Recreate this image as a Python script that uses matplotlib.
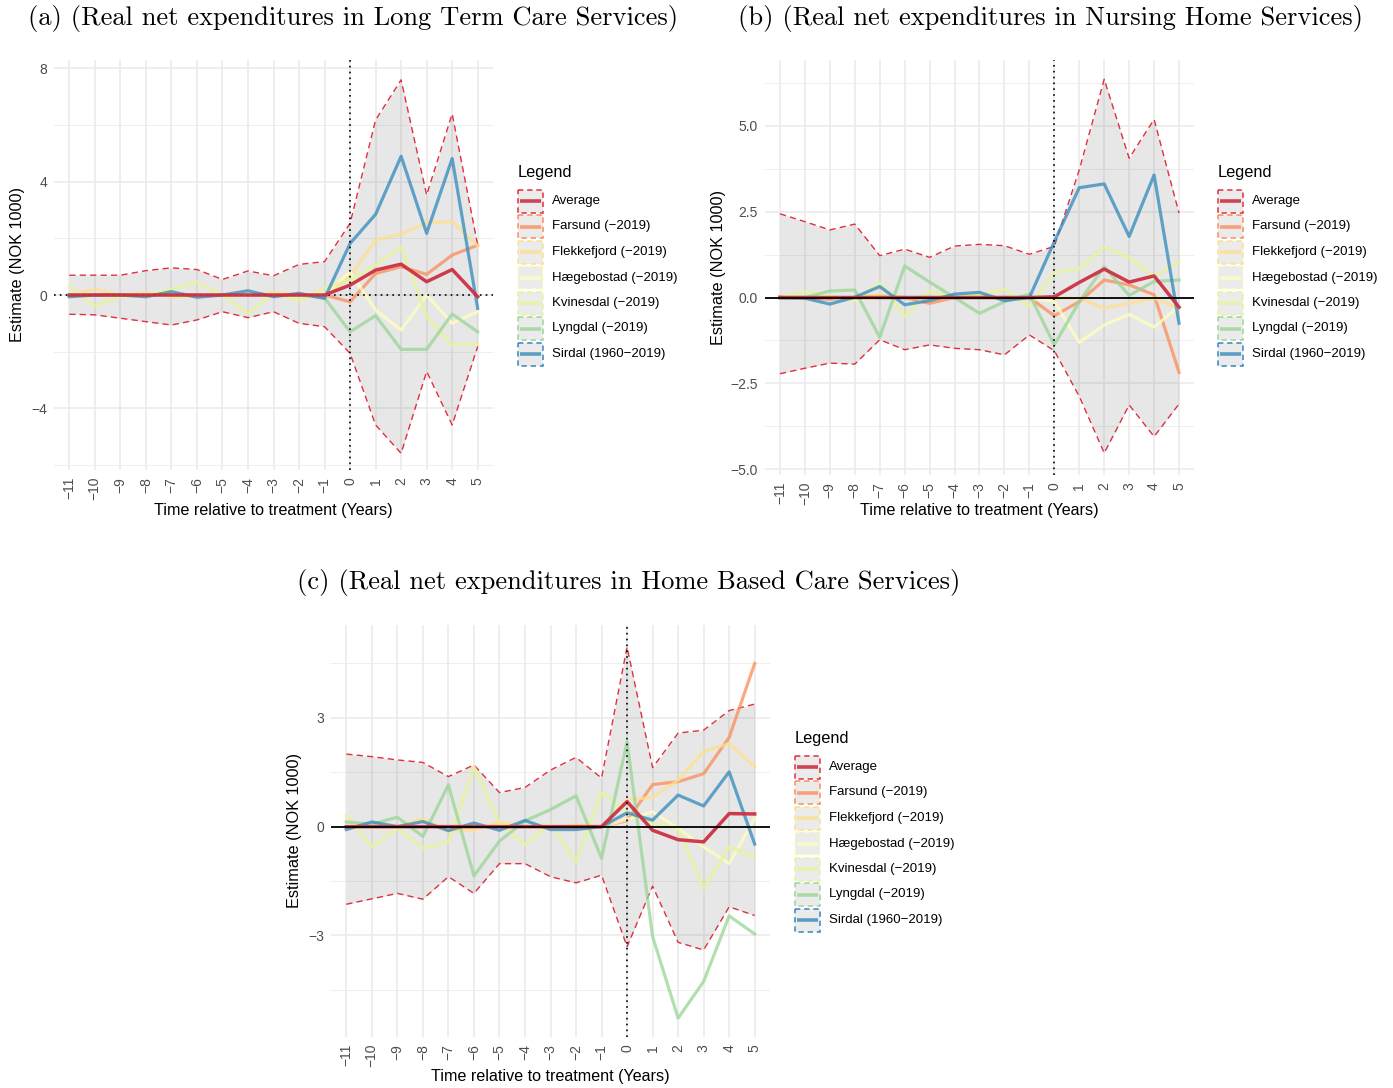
import matplotlib
matplotlib.use("Agg")
import matplotlib.pyplot as plt
from matplotlib.patches import Rectangle

# ---------------- data ----------------
years = list(range(-11, 6))
series_names = ["Average", "Farsund (\u22122019)", "Flekkefjord (\u22122019)",
                "H\u00e6gebostad (\u22122019)", "Kvinesdal (\u22122019)",
                "Lyngdal (\u22122019)", "Sirdal (1960\u22122019)"]
series_colors = ["#CC3243", "#FC8D59", "#FEE08B", "#FFFFBF", "#E6F598", "#99D594", "#3288BD"]

titles = ["(a) (Real net expenditures in Long Term Care Services)",
          "(b) (Real net expenditures in Nursing Home Services)",
          "(c) (Real net expenditures in Home Based Care Services)"]

# Panel (a)
a_avg = [0, 0, 0, 0, 0, 0, 0, 0, 0, 0, 0, 0.35, 0.88, 1.09, 0.47, 0.90, -0.06]
a_upper = [0.70, 0.70, 0.70, 0.86, 0.96, 0.90, 0.55, 0.85, 0.68, 1.08, 1.18, 2.53, 6.18, 7.60, 3.53, 6.40, 1.76]
a_lower = [-0.68, -0.70, -0.82, -0.94, -1.06, -0.88, -0.59, -0.80, -0.59, -1.00, -1.12, -2.06, -4.59, -5.59, -2.70, -4.59, -1.82]
a_farsund = [0, 0, 0, 0, 0, 0, 0, 0, 0, 0, 0, -0.24, 0.76, 1.00, 0.73, 1.41, 1.76]
a_flekkefjord = [0, 0.20, 0, 0.08, -0.06, -0.04, 0, 0, 0.08, 0, -0.03, 0.65, 1.94, 2.15, 2.55, 2.59, 1.74]
a_haegebostad = [0, 0, 0, 0, 0, 0, 0, 0, 0, 0, 0, 0.82, -0.53, -1.24, 0.0, -1.00, -0.59]
a_kvinesdal = [0.32, -0.39, -0.06, 0, 0.20, 0.45, 0, -0.65, 0.06, -0.20, 0.24, 0.53, 1.06, 1.70, -0.76, -1.76, -1.74]
a_lyngdal = [0, 0, 0, 0, 0, 0, 0, 0, 0, 0, -0.10, -1.30, -0.73, -1.92, -1.92, -0.67, -1.30]
a_sirdal = [-0.06, 0, 0, -0.06, 0.12, -0.08, 0, 0.15, -0.06, 0.06, -0.12, 1.82, 2.85, 4.90, 2.18, 4.82, -0.47]

# Panel (b)
b_avg = [0, 0, 0, 0, 0, 0, 0, 0, 0, 0, 0, 0.02, 0.44, 0.83, 0.45, 0.63, -0.28]
b_upper = [2.44, 2.21, 1.97, 2.14, 1.22, 1.41, 1.17, 1.50, 1.55, 1.51, 1.26, 1.49, 3.72, 6.36, 4.06, 5.19, 2.46]
b_lower = [-2.22, -2.06, -1.91, -1.94, -1.23, -1.52, -1.38, -1.48, -1.52, -1.67, -1.09, -1.55, -2.88, -4.53, -3.13, -4.05, -3.10]
b_farsund = [0.03, 0, -0.05, 0, 0.05, 0, -0.17, 0, 0, 0, 0, -0.53, -0.12, 0.51, 0.37, 0.08, -2.18]
b_flekkefjord = [0, 0, 0, 0, 0.08, 0, -0.05, 0, 0.05, 0, 0, -0.02, -0.02, -0.31, -0.17, -0.02, -0.31]
b_haegebostad = [0, 0, 0, -0.08, 0, 0, 0, 0, 0, 0, 0, -0.12, -1.31, -0.80, -0.49, -0.86, -0.26]
b_kvinesdal = [0, 0.17, 0.05, -0.09, 0.42, -0.55, 0.19, 0, 0.08, 0.24, -0.26, 0.73, 0.83, 1.47, 1.17, 0.61, 1.05]
b_lyngdal = [-0.02, 0, 0.19, 0.22, -1.16, 0.92, 0.45, 0, -0.46, -0.12, 0.10, -1.38, -0.12, 0.90, 0.06, 0.47, 0.51]
b_sirdal = [0, -0.02, -0.19, 0.01, 0.32, -0.21, -0.09, 0.10, 0.15, -0.09, 0, 1.63, 3.20, 3.31, 1.78, 3.57, -0.75]

# Panel (c)
c_avg = [0, 0, 0, 0, 0, 0, 0, 0, 0, 0, 0, 0.69, -0.10, -0.36, -0.42, 0.36, 0.35]
c_upper = [2.00, 1.93, 1.84, 1.77, 1.38, 1.70, 0.94, 1.08, 1.56, 1.91, 1.34, 4.95, 1.63, 2.58, 2.66, 3.20, 3.38]
c_lower = [-2.14, -1.99, -1.84, -2.00, -1.38, -1.84, -1.02, -1.02, -1.38, -1.55, -1.34, -3.31, -1.64, -3.19, -3.40, -2.21, -2.45]
c_farsund = [0, 0, 0, 0, 0, 0, 0, 0, 0, 0, 0, 0.17, 1.16, 1.24, 1.46, 2.46, 4.50]
c_flekkefjord = [0, 0, 0, 0.22, -0.12, -0.09, 0.13, 0, -0.05, 0.05, 0, 0.74, 0.81, 1.28, 2.07, 2.29, 1.65]
c_haegebostad = [0, 0, 0, 0, 0, 0, 0, 0, 0, 0, 0, 0.20, 0.41, -0.05, -0.56, -1.02, 0.23]
c_kvinesdal = [0.30, -0.56, -0.04, -0.59, -0.42, 1.66, 0.10, -0.51, 0.07, -0.97, 0.95, 0.38, 0.09, -0.05, -1.71, -0.56, -0.83]
c_lyngdal = [0.13, 0.07, 0.26, -0.27, 1.15, -1.36, -0.40, 0.16, 0.47, 0.85, -0.87, 2.34, -3.03, -5.28, -4.27, -2.46, -2.96]
c_sirdal = [-0.08, 0.13, 0, 0.14, -0.11, 0.10, -0.10, 0.17, -0.08, -0.08, 0, 0.38, 0.18, 0.87, 0.57, 1.51, -0.48]

a_yticks = [-4, 0, 4, 8]
a_yticklabels = ["\u22124", "0", "4", "8"]
b_yticks = [-5.0, -2.5, 0.0, 2.5, 5.0]
b_yticklabels = ["\u22125.0", "\u22122.5", "0.0", "2.5", "5.0"]
c_yticks = [-3, 0, 3]
c_yticklabels = ["\u22123", "0", "3"]
xticklabels = [str(y).replace("-", "\u2212") for y in years]

# ---------------- style ----------------
W, H = 1393, 1088
fig = plt.figure(figsize=(W / 100, H / 100), dpi=100)
SANS = ["Liberation Sans", "DejaVu Sans"]
TICK_COLOR = "#4D4D4D"
CI_COLOR = "#E0303F"

# overlay in pixel coordinates for the legends
over = fig.add_axes([0, 0, 1, 1], zorder=10)
over.set_xlim(0, W)
over.set_ylim(H, 0)
over.axis("off")
over.patch.set_alpha(0)


def fx(px):
    return px / W


def fy(py):
    return 1 - py / H


def draw_legend(x0, ytitle):
    over.text(x0, ytitle, "Legend", family=SANS, fontsize=11.8, ha="left", va="center")
    for i, (name, col) in enumerate(zip(series_names, series_colors)):
        yc = ytitle + 29 + 25.5 * i
        over.add_patch(Rectangle((x0, yc - 11.5), 25, 23, facecolor="#EBEBEB",
                                 edgecolor=col if i else CI_COLOR,
                                 linestyle=(0, (3.5, 2.5)), linewidth=1.1))
        over.plot([x0 + 2, x0 + 23], [yc, yc], color=col, linewidth=2.6,
                  alpha=0.9 if i == 0 else 0.78, solid_capstyle="butt")
        over.text(x0 + 34, yc, name, family=SANS, fontsize=9.5, ha="left", va="center")


def make_panel(rect_px, ylim, yticks, yticklabels, minor_y, avg, upper, lower, munis,
               solid_zero, title, title_xy, ylab_x, xlab_y, legend_xy):
    l, t, r, b = rect_px
    ax = fig.add_axes([fx(l), fy(b), (r - l) / W, (b - t) / H])
    ax.set_xlim(-11.6, 5.6)
    ax.set_ylim(*ylim)
    for s in ax.spines.values():
        s.set_visible(False)
    ax.set_xticks(years)
    ax.set_xticklabels(xticklabels, rotation=90, fontsize=10, color=TICK_COLOR, family=SANS)
    ax.set_yticks(yticks)
    ax.set_yticklabels(yticklabels, fontsize=10, color=TICK_COLOR, family=SANS)
    ax.set_yticks(minor_y, minor=True)
    ax.tick_params(axis="both", which="both", length=0, pad=5)
    ax.grid(True, which="major", color="#EBEBEB", linewidth=1.2, zorder=0)
    ax.grid(True, which="minor", axis="y", color="#EBEBEB", linewidth=0.6, zorder=0)
    ax.set_axisbelow(True)

    ax.fill_between(years, lower, upper, color="#7F7F7F", alpha=0.18, linewidth=0, zorder=1)
    ax.plot(years, upper, color=CI_COLOR, linestyle=(0, (4.5, 3)), linewidth=1.0, zorder=2)
    ax.plot(years, lower, color=CI_COLOR, linestyle=(0, (4.5, 3)), linewidth=1.0, zorder=2)
    for vals, col in zip(munis, series_colors[1:]):
        ax.plot(years, vals, color=col, linewidth=2.3, alpha=0.75, zorder=3)
    if solid_zero:
        ax.plot(years, avg, color=series_colors[0], linewidth=2.5, alpha=0.95, zorder=4)
        ax.axhline(0, color="black", linewidth=1.3, zorder=5)
    else:
        ax.axhline(0, color="black", linewidth=1.2, linestyle=(0, (1, 2.5)), zorder=3.5)
        ax.plot(years, avg, color=series_colors[0], linewidth=2.5, alpha=0.95, zorder=4)
    ax.axvline(0, color="black", linewidth=1.2, linestyle=(0, (1, 2.5)), zorder=6)

    fig.text(fx(title_xy[0]), fy(title_xy[1]), title, family="cmr10", fontsize=19.1,
             ha="center", va="center")
    fig.text(fx(ylab_x), fy((t + b) / 2), "Estimate (NOK 1000)", rotation=90,
             family=SANS, fontsize=11.7, ha="center", va="center")
    fig.text(fx((l + r) / 2), fy(xlab_y), "Time relative to treatment (Years)",
             family=SANS, fontsize=11.6, ha="center", va="center")
    draw_legend(*legend_xy)
    return ax


make_panel((54, 60, 493, 470), (-6.18, 8.3), a_yticks, a_yticklabels, [-6, -2, 2, 6],
           a_avg, a_upper, a_lower,
           [a_farsund, a_flekkefjord, a_haegebostad, a_kvinesdal, a_lyngdal, a_sirdal],
           False, titles[0], (353, 18), 18, 511, (518, 172))

make_panel((765, 60, 1194, 475), (-5.17, 6.92), b_yticks, b_yticklabels, [-3.75, -1.25, 1.25, 3.75, 6.25],
           b_avg, b_upper, b_lower,
           [b_farsund, b_flekkefjord, b_haegebostad, b_kvinesdal, b_lyngdal, b_sirdal],
           True, titles[1], (1051, 18), 718, 511, (1218, 172))

make_panel((331, 625, 770, 1037), (-5.8, 5.56), c_yticks, c_yticklabels, [-4.5, -1.5, 1.5, 4.5],
           c_avg, c_upper, c_lower,
           [c_farsund, c_flekkefjord, c_haegebostad, c_kvinesdal, c_lyngdal, c_sirdal],
           True, titles[2], (629, 583), 295, 1077, (795, 738))

fig.savefig("out.png", dpi=100)
